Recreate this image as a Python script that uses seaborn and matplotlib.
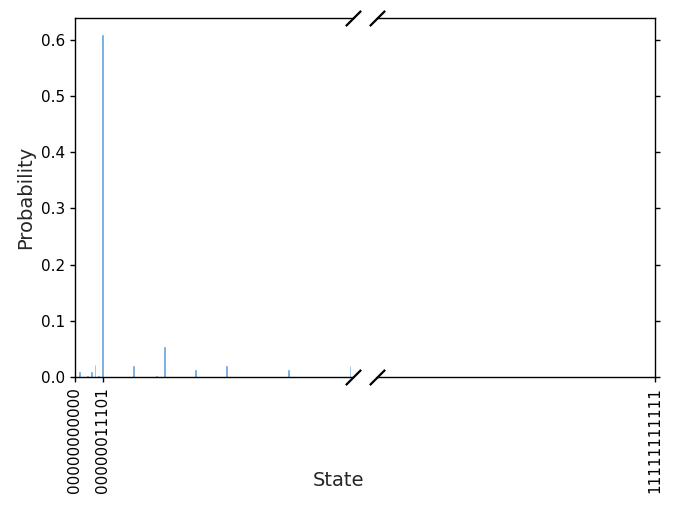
import matplotlib
matplotlib.use("Agg")
import matplotlib.pyplot as plt
import seaborn as sns
import pandas as pd

# Measured states (integer index of 11-bit bitstring) and their probabilities
states = [5, 13, 17, 21, 25, 29, 61, 85, 93, 125, 157, 221, 285]
probs = [0.009, 0.002, 0.009, 0.021, 0.002, 0.608, 0.019, 0.002, 0.054, 0.012, 0.019, 0.012, 0.019]

n_bits = 11
left_ticks = [0, 29]
right_ticks = [2**n_bits - 1]
left_range = (0, 288)
right_range = (2**n_bits - 1 - 288, 2**n_bits - 1)

df = pd.DataFrame({"state": states, "prob": probs})

sns.set_style("ticks")

fig, (ax1, ax2) = plt.subplots(1, 2, sharey=True, figsize=(6.76, 5.07), dpi=100)
fig.subplots_adjust(left=0.1105, right=0.969, top=0.9645, bottom=0.2564, wspace=0.086)

for ax in (ax1, ax2):
    sns.barplot(data=df, x="state", y="prob", native_scale=True, width=0.25,
                color="#3d8fd6", saturation=1, alpha=0.7, errorbar=None,
                edgecolor="#3d8fd6", linewidth=0.5, ax=ax)
    ax.set_xlabel("")
    ax.set_ylabel("")

ax1.set_xlim(*left_range)
ax2.set_xlim(*right_range)

ax1.set_xticks(left_ticks)
ax1.set_xticklabels([format(s, "0%db" % n_bits) for s in left_ticks], rotation=90, fontsize=11)
ax2.set_xticks(right_ticks)
ax2.set_xticklabels([format(s, "0%db" % n_bits) for s in right_ticks], rotation=90, fontsize=11)

ax1.spines["right"].set_visible(False)
ax2.spines["left"].set_visible(False)
ax1.yaxis.tick_left()
ax2.yaxis.tick_right()
ax2.tick_params(labelright=False)
ax1.tick_params(axis="y", labelsize=11)

for ax in (ax1, ax2):
    for s in ax.spines.values():
        s.set_color("black")
        s.set_linewidth(1.0)
    ax.tick_params(colors="black", direction="out", length=3.5, width=1)

# diagonal break marks
d = 1.0
kw = dict(marker=[(-1, -d), (1, d)], markersize=11, linestyle="none",
          color="k", mec="k", mew=1.6, clip_on=False)
ax1.plot([1, 1], [0, 1], transform=ax1.transAxes, **kw)
ax2.plot([0, 0], [0, 1], transform=ax2.transAxes, **kw)

ax1.set_ylabel("Probability", fontsize=14)
fig.text(0.5, 0.053, "State", ha="center", va="center", fontsize=14)

plt.savefig("out.png", dpi=100)
